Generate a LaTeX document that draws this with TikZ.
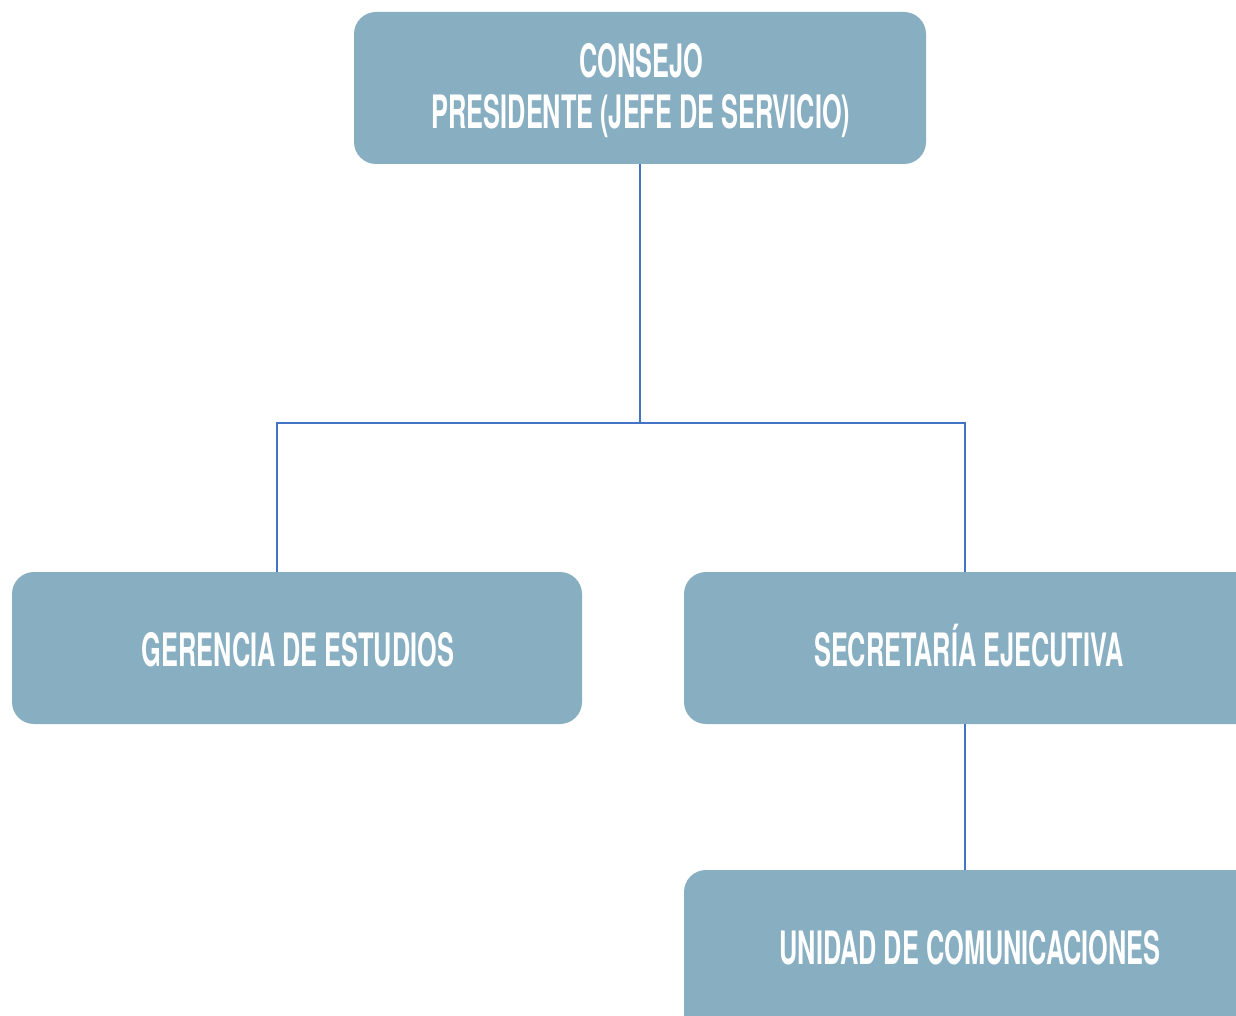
\documentclass[tikz,border=0pt]{standalone}
\usepackage{fontspec}
\setmainfont{TeX Gyre Heros}[FakeStretch=0.55]
\definecolor{boxfill}{HTML}{88AEC1}
\definecolor{linkblue}{HTML}{4472C4}
\begin{document}
\begin{tikzpicture}[x=1pt,y=-1pt,
  orgbox/.style={fill=boxfill, rounded corners=22pt},
  lbl/.style={text=white, font=\fontsize{46}{51}\selectfont\bfseries, align=center, inner sep=0pt},
  link/.style={draw=linkblue, line width=2.4pt}]
\useasboundingbox (0,0) rectangle (1236,1016);
\fill[orgbox] (354,12) rectangle (926,164);
\fill[orgbox] (12,572) rectangle (582,724);
\fill[orgbox] (684,572) rectangle (1260,724);
\fill[orgbox] (684,870) rectangle (1260,1040);
\node[lbl] (top) at (641,91) {CONSEJO\\PRESIDENTE (JEFE DE SERVICIO)};
\node[lbl, anchor=base] (ger) at (298,666) {GERENCIA DE ESTUDIOS};
\node[lbl, anchor=base] (sec) at (969,666) {SECRETARÍA EJECUTIVA};
\node[lbl, anchor=base] (uni) at (970,964) {UNIDAD DE COMUNICACIONES};
\coordinate (topb) at (640,164);
\coordinate (gert) at (277,572);
\coordinate (sect) at (965,572);
\coordinate (secb) at (965,724);
\coordinate (unit) at (965,870);
\draw[link] (topb) -- (640,423) -| (gert);
\draw[link] (640,423) -| (sect);
\draw[link] (secb) -- (unit);
\end{tikzpicture}
\end{document}
